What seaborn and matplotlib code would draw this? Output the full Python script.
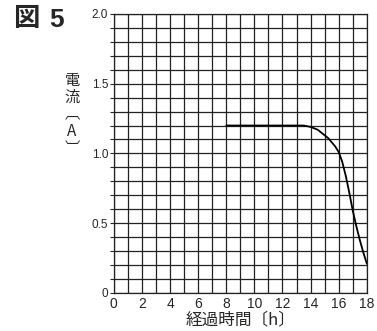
import numpy as np
import matplotlib
matplotlib.use('Agg')
import matplotlib.pyplot as plt
import seaborn as sns

# elapsed time (h) vs current (A)
hours = [8, 10, 12, 13, 13.5, 14, 14.5, 15, 15.25, 15.5, 15.75, 16, 16.25, 16.5,
         16.75, 17, 17.25, 17.5, 17.75, 18]
current = [1.2, 1.2, 1.2, 1.2, 1.2, 1.19, 1.17, 1.13, 1.11, 1.08, 1.05, 1.01, 0.94, 0.84,
           0.72, 0.59, 0.48, 0.38, 0.29, 0.21]

x_ticks = list(range(0, 19, 2))
y_ticks = [0, 0.5, 1.0, 1.5, 2.0]
y_labels = ['0', '0.5', '1.0', '1.5', '2.0']

sns.set_style('white')
plt.rcParams['font.family'] = ['Liberation Sans', 'Noto Sans CJK JP', 'DejaVu Sans']

fig = plt.figure(figsize=(3.77, 3.31), dpi=100)
ax = fig.add_axes([0.302, 0.115, 0.671, 0.843])

sns.lineplot(x=hours, y=current, color='black', linewidth=1.3, ax=ax)

ax.set_xlim(0, 18)
ax.set_ylim(0, 2.0)
ax.set_xticks(x_ticks)
ax.set_xticks(np.arange(0, 19, 1), minor=True)
ax.set_yticks(y_ticks)
ax.set_yticklabels(y_labels)
ax.set_yticks(np.arange(0, 2.01, 0.1), minor=True)
ax.grid(True, which='both', color='#222222', linewidth=0.9)
ax.set_axisbelow(True)
ax.tick_params(axis='x', which='both', length=0, labelsize=10, pad=3)
ax.tick_params(axis='y', which='both', direction='out', length=3, width=0.8,
               labelsize=8.5, pad=1, left=True)
for s in ax.spines.values():
    s.set_color('#222222')
    s.set_linewidth(0.9)

ax.set_xlabel('経過時間〔h〕', fontsize=12, family=['Noto Sans CJK JP'], labelpad=0)
ax.set_ylabel('')

fig.text(0.191, 0.655, '電\n流\n︹\nA\n︺', fontsize=11, ha='center', va='center',
         linespacing=1.0, family=['Noto Sans CJK JP', 'DejaVu Sans'])
fig.text(0.035, 0.985, '図', fontsize=19, fontweight='bold', ha='left', va='top',
         family=['Noto Sans CJK JP'])
fig.text(0.13, 0.975, '5', fontsize=19, fontweight='bold', ha='left', va='top',
         family=['Liberation Sans'])

fig.savefig('out.png', dpi=100)
